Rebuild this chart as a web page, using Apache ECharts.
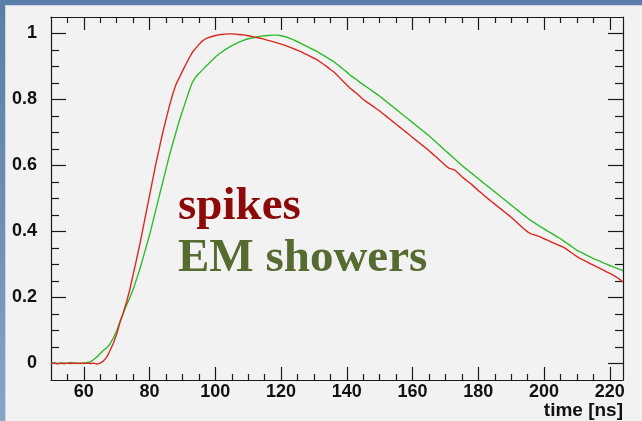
<!DOCTYPE html>
<html>
<head>
<meta charset="utf-8">
<script src="https://cdn.jsdelivr.net/npm/echarts@6/dist/echarts.min.js"></script>
<style>
  html, body { margin: 0; padding: 0; }
  body { width: 642px; height: 421px; position: relative; overflow: hidden;
         background: linear-gradient(180deg, #5a7ea7 0%, #6e90b6 55%, #88a6c7 100%); }
  #panel { position: absolute; left: 5px; top: 5px; right: 0; bottom: 0;
           background: #f2f2f2; border-left: 1px solid #c9d5e2; border-top: 1px solid #c9d5e2; }
  #chart { position: absolute; left: 0; top: 0; width: 642px; height: 421px; }
</style>
</head>
<body>
<div id="panel"></div>
<div id="chart"></div>
<script>
// ---- data ----
const time = [
  50,51,52,53,54,55,56,57,58,59,
  60,61,62,63,64,65,66,67,68,69,
  70,71,72,73,74,75,76,77,78,79,
  80,81,82,83,84,85,86,87,88,89,
  90,91,92,93,94,95,96,97,98,99,
  100,101,102,103,104,105,106,107,108,109,
  110,111,112,113,114,115,116,117,118,119,
  120,121,122,123,124,125,126,127,128,129,
  130,131,132,133,134,135,136,137,138,139,
  140,141,142,143,144,145,146,147,148,149,
  150,151,152,153,154,155,156,157,158,159,
  160,161,162,163,164,165,166,167,168,169,
  170,171,172,173,174,175,176,177,178,179,
  180,181,182,183,184,185,186,187,188,189,
  190,191,192,193,194,195,196,197,198,199,
  200,201,202,203,204,205,206,207,208,209,
  210,211,212,213,214,215,216,217,218,219,
  220,221,222,223,224
];
const spikes = [
  0,0.002,-0.001,0.001,0,0.001,0,0.002,0,0.001,
  0,0.001,0,0.001,-0.002,0.001,0.008,0.02,0.04,0.062,
  0.09,0.125,0.155,0.187,0.225,0.27,0.315,0.36,0.41,0.46,
  0.51,0.56,0.61,0.655,0.70,0.74,0.78,0.815,0.845,0.866,
  0.886,0.906,0.925,0.943,0.955,0.967,0.977,0.984,0.988,0.991,
  0.994,0.996,0.997,0.998,0.999,0.999,0.998,0.997,0.996,0.995,
  0.993,0.991,0.989,0.987,0.985,0.982,0.979,0.977,0.974,0.971,
  0.968,0.965,0.961,0.957,0.953,0.949,0.945,0.940,0.935,0.930,
  0.925,0.920,0.913,0.906,0.899,0.891,0.884,0.874,0.864,0.854,
  0.844,0.834,0.826,0.818,0.809,0.800,0.793,0.786,0.779,0.772,
  0.765,0.757,0.749,0.741,0.733,0.725,0.717,0.709,0.701,0.693,
  0.685,0.677,0.669,0.661,0.653,0.645,0.636,0.627,0.618,0.609,
  0.600,0.592,0.589,0.585,0.576,0.566,0.558,0.550,0.542,0.533,
  0.524,0.516,0.507,0.499,0.491,0.483,0.475,0.467,0.459,0.451,
  0.443,0.434,0.425,0.416,0.407,0.399,0.393,0.390,0.387,0.383,
  0.378,0.374,0.369,0.365,0.360,0.356,0.352,0.345,0.338,0.331,
  0.324,0.318,0.313,0.308,0.303,0.298,0.293,0.288,0.283,0.278,
  0.273,0.268,0.262,0.255,0.247
];
const showers = [
  0,0.001,0,0.002,0,0.001,0.003,0,0.001,0,
  0.002,0.003,0.005,0.012,0.02,0.03,0.04,0.048,0.06,0.078,
  0.10,0.127,0.152,0.177,0.20,0.225,0.255,0.285,0.32,0.355,
  0.39,0.43,0.47,0.51,0.55,0.59,0.63,0.665,0.70,0.735,
  0.765,0.795,0.825,0.852,0.868,0.879,0.889,0.899,0.909,0.919,
  0.929,0.937,0.944,0.951,0.957,0.963,0.968,0.973,0.977,0.981,
  0.984,0.986,0.988,0.990,0.992,0.993,0.994,0.995,0.995,0.995,
  0.993,0.991,0.988,0.984,0.980,0.975,0.970,0.965,0.960,0.955,
  0.950,0.945,0.939,0.933,0.927,0.921,0.915,0.907,0.899,0.891,
  0.883,0.874,0.867,0.860,0.852,0.845,0.838,0.831,0.824,0.817,
  0.810,0.802,0.794,0.786,0.778,0.770,0.762,0.754,0.746,0.738,
  0.730,0.722,0.714,0.706,0.698,0.690,0.681,0.672,0.663,0.654,
  0.645,0.636,0.627,0.618,0.609,0.600,0.592,0.584,0.576,0.568,
  0.560,0.552,0.544,0.536,0.528,0.520,0.512,0.504,0.496,0.488,
  0.480,0.472,0.464,0.456,0.448,0.440,0.433,0.427,0.420,0.414,
  0.408,0.402,0.396,0.390,0.384,0.378,0.371,0.364,0.357,0.350,
  0.343,0.338,0.333,0.328,0.323,0.318,0.314,0.310,0.305,0.301,
  0.297,0.293,0.289,0.285,0.281
];
const xMajorTicks = [60, 80, 100, 120, 140, 160, 180, 200, 220];
const xMinorTicks = [55,65,70,75,85,90,95,105,110,115,125,130,135,145,150,155,165,170,175,185,190,195,205,210,215];
const yMajorTicks = [0, 0.2, 0.4, 0.6, 0.8, 1];
const yMinorTicks = [0.05,0.1,0.15,0.25,0.3,0.35,0.45,0.5,0.55,0.65,0.7,0.75,0.85,0.9,0.95];
const xTitle = 'time [ns]';
const labelSpikes = 'spikes';
const labelShowers = 'EM showers';

// ---- chart ----
const chart = echarts.init(document.getElementById('chart'), null, {renderer: 'canvas'});
const frameLine = {color: '#1a1a1a', width: 1.2};
const labelFont = {fontFamily: 'Liberation Sans', fontWeight: 'bold', fontSize: 18, color: '#111'};
function xAx(pos, ticks, len, withLine, withLabel, extra) {
  return Object.assign({
    type: 'value', min: 50, max: 224, position: pos, gridIndex: 0,
    axisLine: {show: withLine, onZero: false, lineStyle: frameLine},
    axisTick: {show: true, inside: true, length: len, customValues: ticks, lineStyle: frameLine},
    axisLabel: withLabel ? Object.assign({show: true, customValues: ticks, margin: 3}, labelFont) : {show: false},
    splitLine: {show: false}
  }, extra || {});
}
function yAx(pos, ticks, len, withLine, withLabel) {
  return {
    type: 'value', min: -0.05, max: 1.05, position: pos, gridIndex: 0,
    axisLine: {show: withLine, onZero: false, lineStyle: frameLine},
    axisTick: {show: true, inside: true, length: len, customValues: ticks, lineStyle: frameLine},
    axisLabel: withLabel ? Object.assign({show: true, customValues: ticks, margin: 14,
                 formatter: v => String(v)}, labelFont) : {show: false},
    splitLine: {show: false}
  };
}
const option = {
  animation: false,
  backgroundColor: 'transparent',
  grid: {left: 51, right: 19, top: 17, bottom: 41, containLabel: false},
  xAxis: [
    xAx('bottom', xMajorTicks, 13, true, true, {
      name: xTitle, nameLocation: 'end', nameGap: 0,
      nameTextStyle: {fontFamily: 'Liberation Sans', fontWeight: 'bold', fontSize: 19, color: '#111',
                      align: 'right', verticalAlign: 'top', padding: [21, 0, 0, 0]}
    }),
    xAx('bottom', xMinorTicks, 6, false, false),
    xAx('top', xMajorTicks, 13, true, false),
    xAx('top', xMinorTicks, 6, false, false)
  ],
  yAxis: [
    yAx('left', yMajorTicks, 15, true, true),
    yAx('left', yMinorTicks, 8, false, false),
    yAx('right', yMajorTicks, 15, true, false),
    yAx('right', yMinorTicks, 8, false, false)
  ],
  series: [
    {
      name: labelShowers, type: 'line', xAxisIndex: 0, yAxisIndex: 0,
      data: time.map((t, i) => [t, showers[i]]),
      showSymbol: false, lineStyle: {color: '#30bb2b', width: 1.4}, z: 3
    },
    {
      name: labelSpikes, type: 'line', xAxisIndex: 0, yAxisIndex: 0,
      data: time.map((t, i) => [t, spikes[i]]),
      showSymbol: false, lineStyle: {color: '#d82a1e', width: 1.4}, z: 4
    }
  ],
  graphic: [
    {type: 'text', x: 178, y: 207, z: 10,
     style: {text: labelSpikes, font: 'bold 47px "Liberation Serif"', fill: '#8c0a0a',
             textAlign: 'left', textVerticalAlign: 'middle'}},
    {type: 'text', x: 178, y: 259, z: 10,
     style: {text: labelShowers, font: 'bold 47px "Liberation Serif"', fill: '#556b2f',
             textAlign: 'left', textVerticalAlign: 'middle'}}
  ]
};
chart.setOption(option);
</script>
</body>
</html>
